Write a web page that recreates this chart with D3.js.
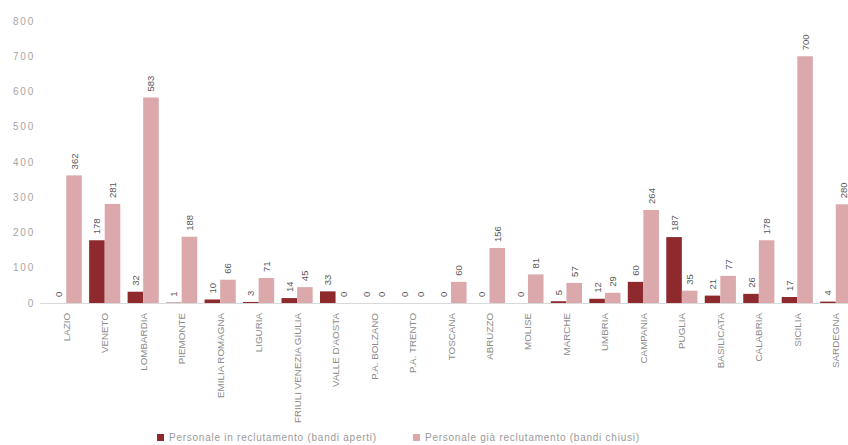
<!DOCTYPE html>
<html>
<head>
<meta charset="utf-8">
<script src="https://cdn.jsdelivr.net/npm/d3@7"></script>
<style>
  body { margin: 0; background: #fff; }
  svg { display: block; font-family: "Liberation Sans", Arial, sans-serif; }
</style>
</head>
<body>
<svg width="848" height="445"></svg>
<script>
// regions and values
const regions = ["LAZIO", "VENETO", "LOMBARDIA", "PIEMONTE", "EMILIA ROMAGNA", "LIGURIA",
  "FRIULI VENEZIA GIULIA", "VALLE D'AOSTA", "P.A. BOLZANO", "P.A. TRENTO", "TOSCANA",
  "ABRUZZO", "MOLISE", "MARCHE", "UMBRIA", "CAMPANIA", "PUGLIA", "BASILICATA",
  "CALABRIA", "SICILIA", "SARDEGNA"];
const aperti = [0, 178, 32, 1, 10, 3, 14, 33, 0, 0, 0, 0, 0, 5, 12, 60, 187, 21, 26, 17, 4];
const chiusi = [362, 281, 583, 188, 66, 71, 45, 0, 0, 0, 60, 156, 81, 57, 29, 264, 35, 77, 178, 700, 280];
const seriesNames = ["Personale in reclutamento (bandi aperti)", "Personale già reclutamento (bandi chiusi)"];
const yTicks = [0, 100, 200, 300, 400, 500, 600, 700, 800];

const palette = ["#8e2a2e", "#dba9ab"];

const svg = d3.select("svg");

// plot box
const plotLeft = 47, plotRight = 855, plotTop = 21, plotBottom = 303;

const x0 = d3.scaleBand()
  .domain(regions)
  .range([plotLeft, plotRight])
  .paddingInner(0.19)
  .paddingOuter(0.095);

const x1 = d3.scaleBand()
  .domain([0, 1])
  .range([0, x0.bandwidth()])
  .padding(0);

const y = d3.scaleLinear()
  .domain([0, 800])
  .range([plotBottom, plotTop]);

// y tick labels only, no axis line
const yAxis = svg.append("g")
  .attr("transform", "translate(35,0)")
  .call(d3.axisLeft(y).tickValues(yTicks).tickSize(0).tickPadding(0));
yAxis.select(".domain").remove();
yAxis.selectAll("text")
  .attr("fill", "#a6a6a6")
  .style("font-size", "10px")
  .style("letter-spacing", "1.8px");

// baseline
svg.append("line")
  .attr("x1", 40).attr("x2", 848)
  .attr("y1", y(0) + 0.5).attr("y2", y(0) + 0.5)
  .attr("stroke", "#d9d9d9")
  .attr("stroke-width", 1);

const rows = regions.map((r, i) => ({ region: r, vals: [aperti[i], chiusi[i]] }));

const groups = svg.append("g").selectAll("g")
  .data(rows)
  .join("g")
  .attr("transform", d => "translate(" + x0(d.region) + ",0)");

// bars
groups.selectAll("rect")
  .data(d => d.vals.map((v, k) => ({ k: k, v: v })))
  .join("rect")
  .attr("x", d => x1(d.k))
  .attr("y", d => y(d.v))
  .attr("width", x1.bandwidth())
  .attr("height", d => y(0) - y(d.v))
  .attr("fill", d => palette[d.k]);

// value labels, rotated
groups.selectAll("text.val")
  .data(d => d.vals.map((v, k) => ({ k: k, v: v })))
  .join("text")
  .attr("class", "val")
  .attr("transform", d => "translate(" + (x1(d.k) + x1.bandwidth() / 2 + 3.5) + "," + (y(d.v) - 6) + ") rotate(-90)")
  .attr("text-anchor", "start")
  .attr("fill", "#595959")
  .style("font-size", "9.5px")
  .text(d => d.v);

// category labels, rotated
svg.append("g").selectAll("text")
  .data(regions)
  .join("text")
  .attr("transform", d => "translate(" + (x0(d) + x0.bandwidth() / 2 + 3.5) + ",313) rotate(-90)")
  .attr("text-anchor", "end")
  .attr("fill", "#8c8c8c")
  .style("font-size", "9.8px")
  .text(d => d);

// legend
const legendX = [157, 413];
const legend = svg.append("g").selectAll("g")
  .data(seriesNames)
  .join("g")
  .attr("transform", (d, i) => "translate(" + legendX[i] + ",441)");

legend.append("rect")
  .attr("x", 0).attr("y", -7)
  .attr("width", 7).attr("height", 7)
  .attr("fill", (d, i) => palette[i]);

legend.append("text")
  .attr("x", 12).attr("y", 0)
  .attr("fill", "#9a9a9a")
  .style("font-size", "10px")
  .style("letter-spacing", "0.75px")
  .text(d => d);
</script>
</body>
</html>
